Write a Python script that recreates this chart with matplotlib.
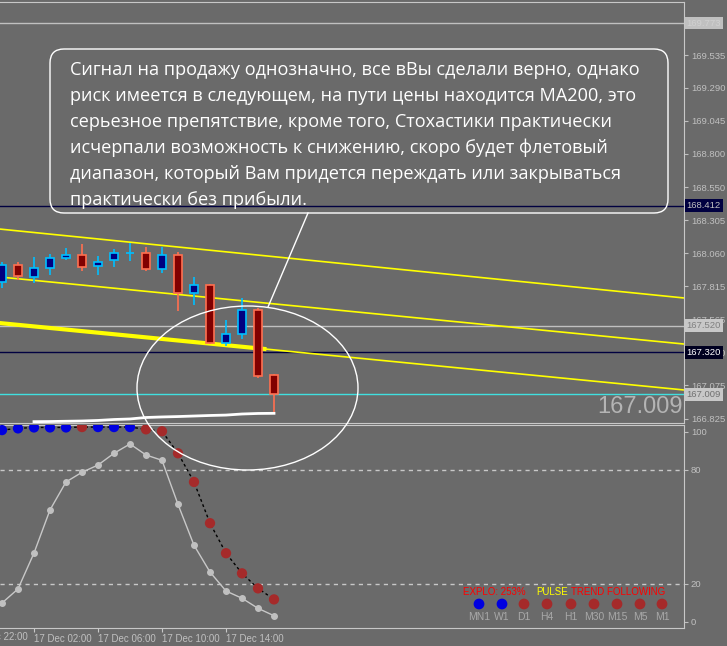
import matplotlib
matplotlib.use("Agg")
import matplotlib.pyplot as plt
from matplotlib.patches import Ellipse, FancyBboxPatch
from matplotlib import transforms

# --- данные графика (H1, 17 Dec) ---
opens = [167.845, 167.971, 167.882, 167.949, 168.023, 168.046, 167.964, 168.009, 168.058,
         168.061, 167.942, 168.046, 167.763, 167.822, 167.391, 167.458, 167.636, 167.152]
highs = [167.994, 167.994, 168.031, 168.053, 168.098, 168.128, 168.038, 168.090, 168.135,
         168.105, 168.105, 168.068, 167.882, 167.830, 167.562, 167.726, 167.651, 167.160]
lows = [167.800, 167.860, 167.837, 167.897, 168.009, 167.927, 167.897, 167.956, 168.001,
        167.927, 167.912, 167.629, 167.673, 167.385, 167.368, 167.420, 167.130, 166.877]
closes = [167.971, 167.889, 167.949, 168.023, 168.046, 167.956, 167.994, 168.061, 168.061,
          167.942, 168.046, 167.763, 167.822, 167.391, 167.458, 167.636, 167.145, 167.009]

ma_start = 2
ma_values = [166.805, 166.806, 166.808, 166.810, 166.814, 166.821, 166.825, 166.836,
             166.840, 166.843, 166.847, 166.851, 166.854, 166.862, 166.866, 166.867]

# линии канала: цена на левом и правом краю окна
channel_left = [168.239, 167.882, 167.539]
channel_right = [167.726, 167.383, 167.041]

levels = [169.773, 168.412, 167.520, 167.320, 167.009]
level_line_colors = ["#c0c0c0", "#000040", "#c0c0c0", "#000040", "#40e0e0"]
level_box_colors = ["#c0c0c0", "#000040", "#c8c8c8", "#000020", "#c8c8c8"]
level_text_colors = ["#d0d0d0", "#c0c0c0", "#808080", "#ffffff", "#707070"]

price_ticks = [169.535, 169.290, 169.045, 168.800, 168.550, 168.305, 168.060,
               167.815, 167.565, 167.320, 167.075, 166.825]

stoch_main = [10, 17.4, 36.3, 59, 73.7, 78.8, 82.6, 88.8, 93.7, 87.9, 85.1, 61.9,
              40.4, 26.3, 16.3, 12.5, 7.2, 3.3]
signal_vals = [101, 101.9, 102.4, 102.4, 102.4, 102.6, 102.6, 102.6, 102.6, 101.4,
               100.4, 88.8, 73.7, 52, 36.2, 25.6, 17.7, 11.9]
signal_up = [1, 1, 1, 1, 1, 0, 1, 1, 1, 0, 0, 0, 0, 0, 0, 0, 0, 0]

time_ticks = [2, 6, 10, 14]
time_labels = ["17 Dec 02:00", "17 Dec 06:00", "17 Dec 10:00", "17 Dec 14:00"]

tf_names = ["MN1", "W1", "D1", "H4", "H1", "M30", "M15", "M5", "M1"]
tf_up = [1, 1, 0, 0, 0, 0, 0, 0, 0]

note_lines = [
    "Сигнал на продажу однозначно, все вВы сделали верно, однако",
    "риск имеется в следующем, на пути цены находится MA200, это",
    "серьезное препятствие, кроме того, Стохастики практически",
    "исчерпали возможность к снижению, скоро будет флетовый",
    "диапазон, который Вам придется переждать или закрываться",
    "практически без прибыли.",
]

BG = "#6a6a6a"
FG = "#c0c0c0"
W, H = 727, 646

fig = plt.figure(figsize=(W / 100, H / 100), dpi=100, facecolor=BG)
ax = fig.add_axes([0, (H - 423) / H, 684 / W, 421 / H], facecolor=BG)
sub = fig.add_axes([0, (H - 628) / H, 684 / W, 203 / H], facecolor=BG, sharex=ax)

x0, x1 = -0.125, 42.625
ax.set_xlim(x0, x1)
ax.set_ylim(166.795, 169.930)
sub.set_ylim(-3.16, 103.68)

for a in (ax, sub):
    for s in ("top", "right", "bottom"):
        a.spines[s].set_color("#c8c8c8")
    a.spines["left"].set_visible(False)
    a.yaxis.tick_right()
    a.tick_params(axis="y", colors=FG, labelsize=6.8, length=3, pad=2, labelcolor=FG)
    a.tick_params(axis="y", labelfontfamily="Liberation Sans")

ax.tick_params(axis="x", bottom=False, labelbottom=False)
ax.set_yticks(price_ticks)
ax.set_yticklabels([f"{p:.3f}" for p in price_ticks])

# уровни
ytr = transforms.blended_transform_factory(ax.transAxes, ax.transData)
for lv, lc, bc, tc in zip(levels, level_line_colors, level_box_colors, level_text_colors):
    ax.axhline(lv, color=lc, lw=1, zorder=1)
    ax.text(1.004, lv, f"{lv:.3f}", transform=ytr, ha="left", va="center", fontsize=6.8,
            family="Liberation Sans", color=tc, clip_on=False, zorder=5,
            bbox=dict(boxstyle="square,pad=0.2", fc=bc, ec="none"))

# канал
for yl, yr in zip(channel_left, channel_right):
    ax.plot([x0, x1], [yl, yr], color="#ffff00", lw=1.2, zorder=2)
k = (channel_right[2] - channel_left[2]) / (x1 - x0)
ax.plot([x0, 16.4], [channel_left[2], channel_left[2] + k * (16.4 - x0)],
        color="#ffff00", lw=3, zorder=2)

# MA
ax.plot(range(ma_start, ma_start + len(ma_values)), ma_values, color="white", lw=2, zorder=3)

# свечи
for i, (o, h, l, c) in enumerate(zip(opens, highs, lows, closes)):
    up = c >= o
    edge = "#00bfff" if up else "#ff7050"
    fill = "#000080" if up else "#800000"
    ax.vlines(i, l, h, color=edge, lw=1.2, zorder=3)
    body = max(abs(c - o), 0.0005)
    ax.bar(i, body, bottom=min(o, c), width=0.56, color=fill, edgecolor=edge, lw=1.2, zorder=4)

ax.text(0.998, 166.914, f"{closes[-1]:.3f}", transform=ytr, ha="right", va="center",
        fontsize=17, family="Liberation Sans", color="#b4b4b4", zorder=5)

# осциллятор
sub.axhline(80, color="#c8c8c8", lw=1, ls=(0, (3, 3)))
sub.axhline(20, color="#c8c8c8", lw=1, ls=(0, (3, 3)))
xs = list(range(len(stoch_main)))
sub.plot(xs, stoch_main, color="#c8c8c8", lw=1, marker="o", ms=4,
         mfc="#c0c0c0", mec="#c0c0c0", zorder=3)
sub.plot(xs, signal_vals, color="black", lw=1, ls=(0, (2, 2)), zorder=3)
sub.scatter(xs, signal_vals, s=55, c=["#0000e0" if u else "#a52a2a" for u in signal_up],
            zorder=4, linewidths=0)
sub.set_yticks([0, 20, 80, 100])
sub.set_yticklabels(["0", "20", "80", "100"])
sub.set_xticks(time_ticks)
sub.set_xticklabels(time_labels, ha="left")
sub.tick_params(axis="x", colors="#c8c8c8", labelcolor=FG, labelsize=7, length=3, pad=1)
for t in sub.get_xticklabels():
    t.set_fontfamily("Liberation Sans")
sub.text(-2, -0.02, "16 Dec 22:00", transform=transforms.blended_transform_factory(
    sub.transData, sub.transAxes), ha="left", va="top", fontsize=7, color=FG,
    family="Liberation Sans", clip_on=False)

# слой аннотаций в пикселях
ov = fig.add_axes([0, 0, 1, 1], facecolor="none")
ov.set_xlim(0, W)
ov.set_ylim(H, 0)
ov.axis("off")

ov.add_patch(FancyBboxPatch((50, 49), 618, 164, boxstyle="round,pad=0,rounding_size=14",
                            fill=False, ec="white", lw=1))
for j, line in enumerate(note_lines):
    ov.text(70, 70 + 26 * j, line, fontsize=13.1, family="Open Sans", color="white",
            ha="left", va="center")
ov.plot([308, 268], [213, 307], color="white", lw=1)
ov.add_patch(Ellipse((247.5, 388), 221, 164, fill=False, ec="white", lw=1))

# панель таймфреймов
tf_x = [479, 502, 524, 547, 571, 594, 617, 640, 662]
ov.text(463, 592, "EXPLO: 253%", color="#ff0000", fontsize=7, family="Liberation Sans",
        ha="left", va="center")
ov.text(536, 592, "PULSE", color="#ffff00", fontsize=7, family="Liberation Sans",
        ha="left", va="center")
ov.text(571, 592, "TREND FOLLOWING", color="#ff0000", fontsize=7, family="Liberation Sans",
        ha="left", va="center")
ov.scatter(tf_x, [604] * len(tf_x), s=60, linewidths=0,
           c=["#0000e0" if u else "#a52a2a" for u in tf_up])
for xx, name in zip(tf_x, tf_names):
    ov.text(xx, 617, name, color="#a8a8a8", fontsize=7.5, family="Liberation Sans",
            ha="center", va="center")

fig.savefig("out.png", dpi=100, facecolor=BG)
